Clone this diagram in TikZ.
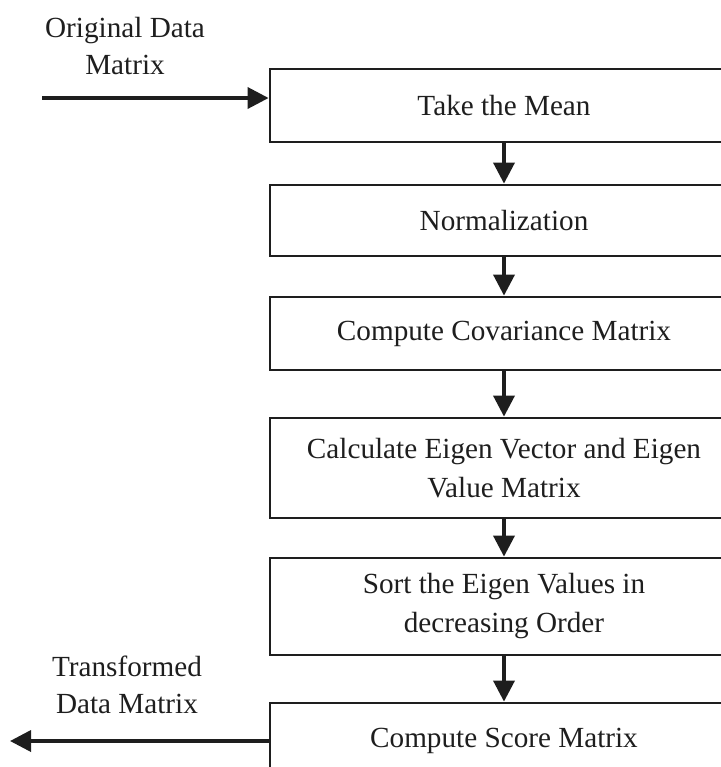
\documentclass[tikz,border=0pt]{standalone}
\usepackage{fontspec}
\setmainfont{Liberation Serif}
\usetikzlibrary{arrows.meta}
\definecolor{ink}{RGB}{30,30,30}
\begin{document}
\begin{tikzpicture}[x=0.5pt,y=-0.5pt,
  stepbox/.style={draw=ink, line width=1.4pt, minimum width=234pt, inner sep=0pt,
    align=center, text=ink, font=\fontsize{14.6}{19.5}\selectfont},
  flow/.style={draw=ink, line width=1.8pt, -{Triangle[length=10.5pt,width=10.5pt]}},
  lbl/.style={align=center, text=ink, font=\fontsize{14.6}{18.5}\selectfont}]
\useasboundingbox (0,0) rectangle (721,767);
\clip (0,0) rectangle (721,767);

% process steps (the column runs past the right and bottom edges)
\node[stepbox, minimum height=36.5pt] (b1) at (504,105.5) {Take the Mean};
\node[stepbox, minimum height=35.5pt] (b2) at (504,220.5) {Normalization};
\node[stepbox, minimum height=36.5pt] (b3) at (504,333.5) {Compute Covariance Matrix};
\node[stepbox, minimum height=50pt]   (b4) at (504,468) {Calculate Eigen Vector and Eigen\\Value Matrix};
\node[stepbox, minimum height=48.5pt] (b5) at (504,606.5) {Sort the Eigen Values in\\decreasing Order};
\node[stepbox, minimum height=38pt]   (b6) at (504,741) {Compute Score Matrix};

% input and output labels
\node[lbl] (inlbl) at (125,46) {Original Data\\Matrix};
\node[lbl] (outlbl) at (127,685) {Transformed\\Data Matrix};

\coordinate (inA) at (42,98);
\coordinate (outA) at (10,741);

% connectors
\draw[flow] (inA) -- (inA -| b1.west);
\draw[flow] (b1) -- (b2);
\draw[flow] (b2) -- (b3);
\draw[flow] (b3) -- (b4);
\draw[flow] (b4) -- (b5);
\draw[flow] (b5) -- (b6);
\draw[flow] (b6.west) -- (outA);
\end{tikzpicture}
\end{document}
